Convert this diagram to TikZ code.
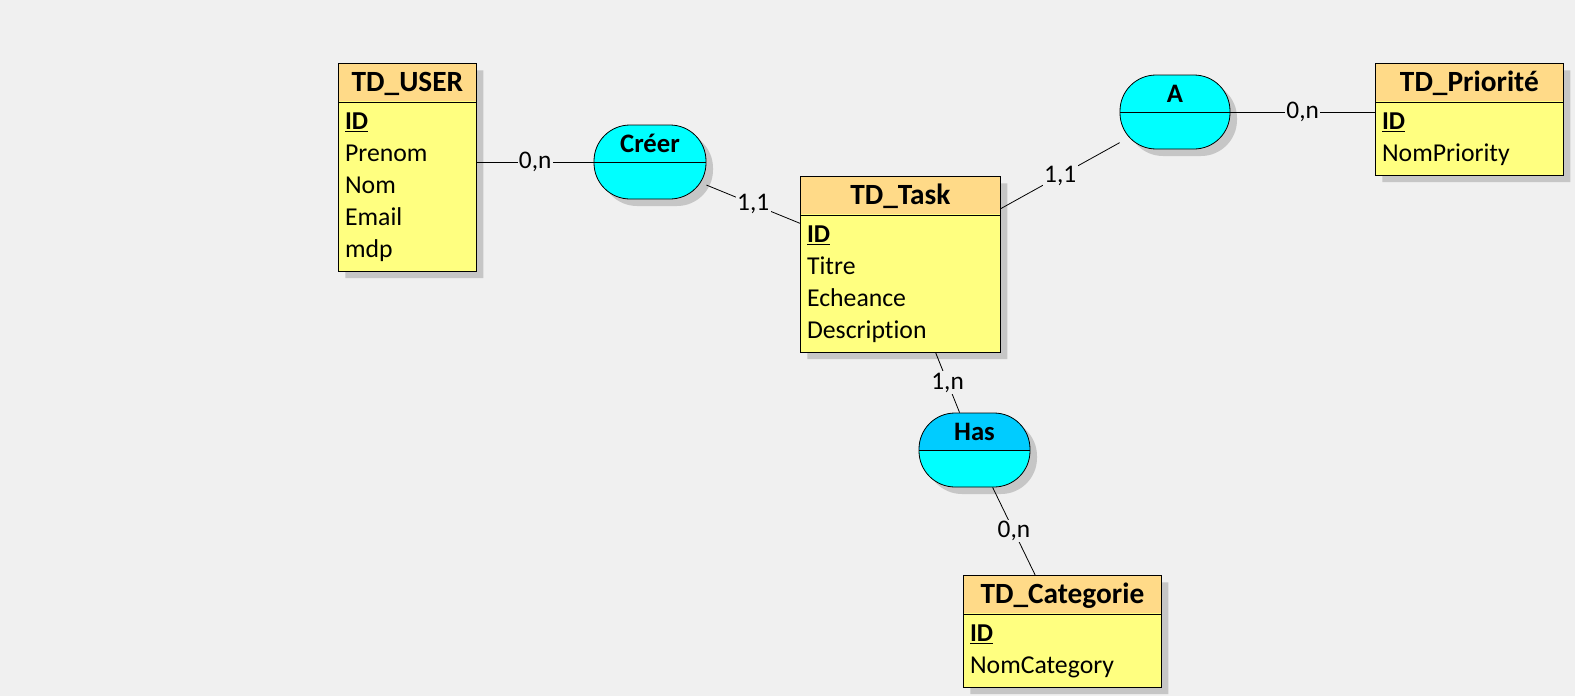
\documentclass[tikz,border=0pt]{standalone}
\usepackage{fontspec}
\setmainfont{Carlito}[Ligatures=NoCommon]
\usetikzlibrary{positioning, shapes.multipart, shadows}

\definecolor{bgcol}{HTML}{F0F0F0}
\definecolor{headcol}{HTML}{FFDA88}
\definecolor{bodycol}{HTML}{FFFF80}
\definecolor{assoccol}{HTML}{00FFFF}
\definecolor{hastopcol}{HTML}{00CCFF}
\definecolor{shadowcol}{HTML}{C6C6C6}

\newcommand{\headtxt}[1]{{\bfseries\fontsize{22}{24}\selectfont\rule[-5pt]{0pt}{22.5pt}#1}}

\begin{document}
\begin{tikzpicture}[
    x=0.75pt, y=-0.75pt,
    entity/.style={rectangle split, rectangle split parts=2, draw, line width=0.6pt,
                   fill=bodycol, rectangle split part align={center,left},
                   path picture={\fill[headcol] (path picture bounding box.north west)
                     rectangle ([yshift=-28.5pt]path picture bounding box.north east);},
                   align=left, anchor=north west, inner xsep=5pt, inner ysep=3pt,
                   font=\fontsize{19.3}{24}\selectfont,
                   drop shadow={shadow xshift=5.25pt, shadow yshift=-5.25pt,
                                fill=shadowcol, opacity=1}},
    assoc/.style={draw, line width=0.6pt, fill=assoccol, rounded corners=27pt,
                  minimum width=84pt, minimum height=55.5pt,
                  text height=15pt, text depth=30pt,
                  font=\bfseries\fontsize{20}{24}\selectfont,
                  path picture={\draw (path picture bounding box.west) -- (path picture bounding box.east);},
                  drop shadow={shadow xshift=5.25pt, shadow yshift=-5.25pt,
                               fill=shadowcol, opacity=1}},
    hastop/.style={path picture={
                  \fill[hastopcol, sharp corners] (path picture bounding box.north west)
                    rectangle (path picture bounding box.east);
                  \draw (path picture bounding box.west) -- (path picture bounding box.east);}},
    card/.style={fill=bgcol, inner sep=1pt, font=\fontsize{19}{24}\selectfont},
    link/.style={line width=0.6pt}
  ]
  % Background
  \fill[bgcol] (0,0) rectangle (1575,696);
  \useasboundingbox (0,0) rectangle (1575,696);

  % Entities
  \node[entity, minimum width=103.5pt] (user) at (338,63)
    {\headtxt{TD\_USER}
     \nodepart{two}\strut\underline{\textbf{ID}}\\ \strut Prenom\\ \strut Nom\\ \strut Email\\ \strut mdp};
  \node[entity, minimum width=150pt] (task) at (800,176)
    {\headtxt{TD\_Task}
     \nodepart{two}\strut\underline{\textbf{ID}}\\ \strut Titre\\ \strut Echeance\\ \strut Description};
  \node[entity, minimum width=141pt] (prio) at (1375,63)
    {\headtxt{TD\_Priorité}
     \nodepart{two}\strut\underline{\textbf{ID}}\\ \strut NomPriority};
  \node[entity, minimum width=148.5pt] (cat) at (963,575)
    {\headtxt{TD\_Categorie}
     \nodepart{two}\strut\underline{\textbf{ID}}\\ \strut NomCategory};

  % Associations
  \node[assoc] (creer) at (650,162) {Créer};
  \node[assoc, minimum width=82.5pt] (a) at (1175,112) {A};
  \node[assoc, hastop, minimum width=83.25pt] (has) at (974.5,450) {Has};

  % Links with cardinalities
  \draw[link] (creer.west -| user.east) -- node[card] {0,n} (creer.west);
  \draw[link] (creer) -- node[card] {1,1} (task);
  \draw[link] (task) -- node[card] {1,1} (a);
  \draw[link] (a.east) -- node[card] {0,n} (a.east -| prio.west);
  \draw[link] (task) -- node[card] {1,n} (has);
  \draw[link] (has) -- node[card] {0,n} (cat);
\end{tikzpicture}
\end{document}
